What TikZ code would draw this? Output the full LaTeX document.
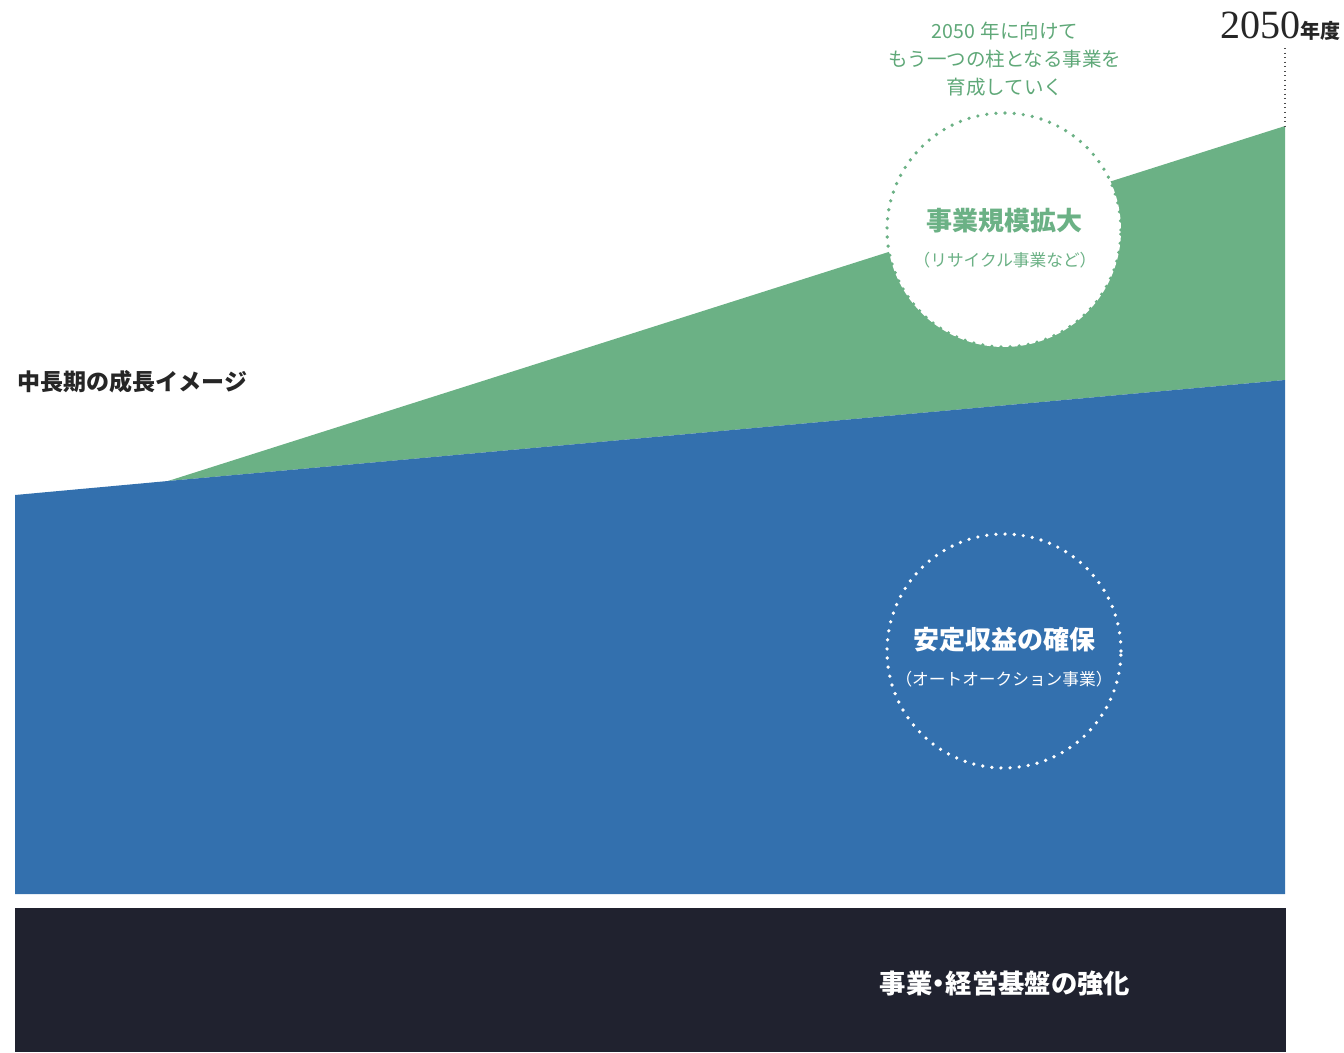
\documentclass[tikz,border=0pt]{standalone}
\usepackage{fontspec}
\setmainfont{Noto Sans CJK JP}
\newfontfamily\serifnum{Liberation Serif}
\usepackage{tikz}
\usetikzlibrary{calc}
\definecolor{growgreen}{HTML}{6BB185}
\definecolor{baseblue}{HTML}{3370AE}
\definecolor{founddark}{HTML}{20222F}
\definecolor{growtext}{HTML}{5FA878}
\tikzstyle{ring} = [circle,minimum size=4.68cm,line width=2.1pt,dash pattern=on 0pt off 5.2pt,line cap=round]
\tikzstyle{head} = [font=\fontsize{14.8}{17}\selectfont\bfseries,inner sep=0pt]
\tikzstyle{sub} = [font=\fontsize{9.5}{11}\selectfont,inner sep=0pt]

\begin{document}
\begin{tikzpicture}[x=0.02cm,y=-0.02cm]
\useasboundingbox (0,0) rectangle (1344,1052);

% Areas

    \fill[growgreen] (168,481) -- (1285,126) -- (1285,380) -- cycle;
    \fill[baseblue] (15,495) -- (168,481) -- (1285,380) -- (1285,894) -- (15,894) -- cycle;
    \fill[founddark] (15,908) rectangle (1286,1052);

% Year mark

    \coordinate (tick) at (1285,48);
    \coordinate (peak) at (1285,126);
    \draw[dotted, gray!60!black, line width=0.6pt] (tick) -- (peak);
    \node[anchor=base east, inner sep=0pt, text=black!85] at (1341,38) (year)
        {{\fontsize{22.8}{24}\serifnum 2050}{\fontsize{11.4}{12}\selectfont\bfseries 年度}};

% Circles and texts

    \node[ring, fill=white, draw=growgreen] at (1004,230) (expand) {};
    \node[head, text=growgreen] at (1004,221) (expandhead) {事業規模拡大};
    \node[sub, text=growgreen] at (1005,260) (expandsub) {（リサイクル事業など）};
    \node[align=center, text=growtext, inner sep=0pt,
          font=\fontsize{11.1}{16}\selectfont] at (1005,59) (goal)
        {2050\hspace{0.3em}年に向けて\\もう一つの柱となる事業を\\育成していく};

    \node[ring, draw=white] at (1004,651) (stable) {};
    \node[head, text=white] at (1004,640) (stablehead) {安定収益の確保};
    \node[sub, text=white] at (1004,679) (stablesub) {（オートオークション事業）};

    \node[anchor=west, inner sep=0pt, text=black!85,
          font=\fontsize{13.1}{15}\selectfont\bfseries] at (17,382) (title) {中長期の成長イメージ};
    \node[inner sep=0pt, text=white,
          font=\fontsize{15}{17}\selectfont\bfseries] at (1005,983) (found)
        {事業\hspace{-0.25em}・\hspace{-0.25em}経営基盤の強化};

\end{tikzpicture}
\end{document}
